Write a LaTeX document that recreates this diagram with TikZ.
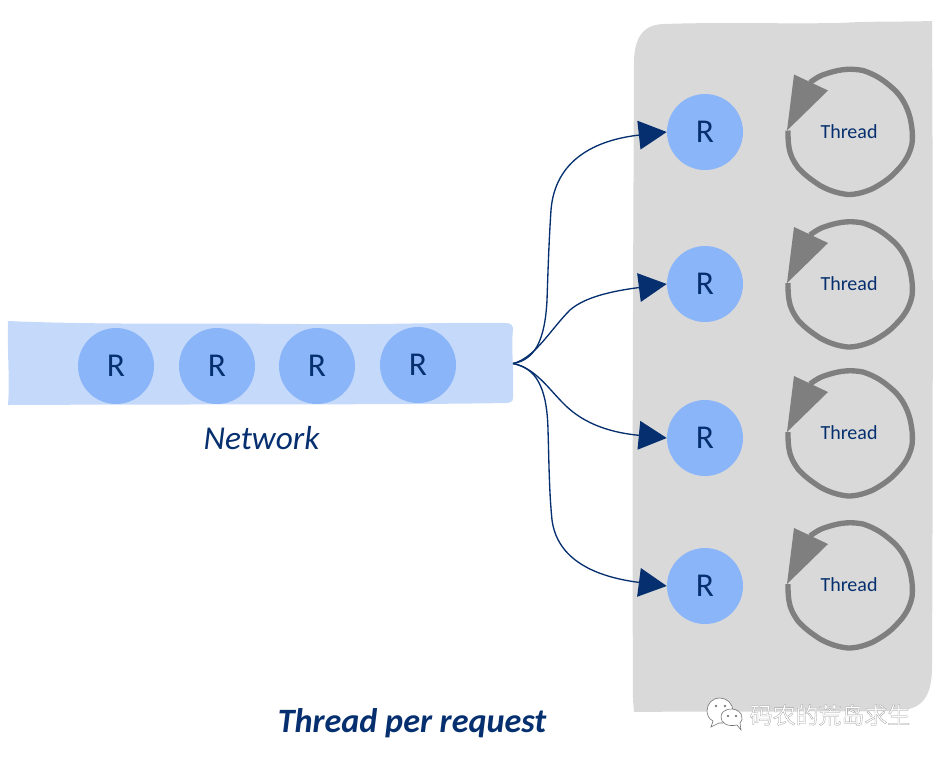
\documentclass[tikz,border=0pt]{standalone}
\usepackage{fontspec}
\setmainfont{Carlito}
\newfontfamily\cjkfont{Noto Sans CJK SC}[Scale=1]
\usetikzlibrary{arrows.meta}
\definecolor{ink}{HTML}{052F6E}
\definecolor{reqblue}{HTML}{8AB5F8}
\definecolor{barblue}{HTML}{C5D9FB}
\definecolor{panelgrey}{HTML}{D9D9D9}
\definecolor{loopgrey}{HTML}{7F7F7F}
\tikzset{
  x=0.75pt,y=-0.75pt,
  req/.style={circle,fill=reqblue,inner sep=0pt,minimum size=57pt,text=ink,font=\fontsize{25}{25}\selectfont},
  threadlabel/.style={inner sep=0pt,text=ink,font=\fontsize{15}{15}\selectfont},
  link/.style={draw=ink,line width=1pt,-{Triangle[length=21pt,width=21.5pt,fill=ink]}},
  loopline/.style={draw=loopgrey,line width=4pt,line join=round},
  loophead/.style={fill=loopgrey},
}
\begin{document}
\begin{tikzpicture}
\useasboundingbox (0,0) rectangle (941,757);
% panel
\fill[panelgrey] (633,700) .. controls (632,500) and (633,300) .. (634,60)
  .. controls (635,35) and (645,24) .. (665,24)
  .. controls (720,22) and (780,24) .. (840,23)
  .. controls (870,21) and (900,22) .. (932,21)
  .. controls (933,200) and (933,450) .. (932,670)
  .. controls (931,700) and (920,710) .. (895,711)
  .. controls (800,712) and (720,711) .. (634,712) -- cycle;
% network bar
\fill[barblue] (8,321) .. controls (100,325) and (200,323) .. (300,324)
  .. controls (380,325) and (450,322) .. (505,323)
  .. controls (512,323) and (513,326) .. (513,330)
  .. controls (511,345) and (514,370) .. (513,398)
  .. controls (513,402) and (510,403) .. (505,403)
  .. controls (400,405) and (200,404) .. (8,405)
  .. controls (10,380) and (7,350) .. (8,321) -- cycle;
\coordinate (hub) at (513,363.5);
% requests on the network
\node[req] (n1) at (116,366) {R};
\node[req] (n2) at (217,366) {R};
\node[req] (n3) at (317,366) {R};
\node[req] (n4) at (418,365) {R};
\node[inner sep=0pt,text=ink,font=\fontsize{25}{25}\selectfont\itshape] (network) at (261.5,438) {Network};
% handled requests
\node[req] (r1) at (705,132) {R};
\node[req] (r2) at (705,284) {R};
\node[req] (r3) at (705,438) {R};
\node[req] (r4) at (705,586) {R};
% connectors
\draw[link] (hub) .. controls (535,360) and (545,340) .. (547,300)
  .. controls (548,270) and (549,240) .. (551,210)
  .. controls (555,160) and (595,140) .. (r1.west);
\draw[link] (hub) .. controls (535,358) and (550,330) .. (570,310)
  .. controls (585,297) and (612,291) .. (r2.west);
\draw[link] (hub) .. controls (535,368) and (548,388) .. (563,403)
  .. controls (585,426) and (615,433) .. (r3.west);
\draw[link] (hub) .. controls (535,368) and (547,385) .. (548,430)
  .. controls (549,460) and (549,490) .. (552,520)
  .. controls (558,565) and (605,578) .. (r4.west);
% thread loops
\foreach \name/\cx/\cy in {t1/850/131.5,t2/850/284,t3/850/433,t4/850/585}{
  \begin{scope}[shift={(\cx,\cy)}]
    \node[threadlabel] (\name) at (-1,0) {Thread};
    \draw[loopline] (-40,-49) .. controls (-33,-54) and (-30,-56) .. (-23,-58)
      .. controls (-8,-63) and (2,-63) .. (13,-61)
      .. controls (25,-57) and (33,-52) .. (43,-43)
      .. controls (52,-35) and (57,-25) .. (60,-14)
      .. controls (62,-5) and (63,3) .. (62,12)
      .. controls (60,22) and (55,31) .. (47,39)
      .. controls (40,47) and (32,52) .. (23,57)
      .. controls (14,61) and (6,63) .. (-2,63)
      .. controls (-12,62) and (-21,59) .. (-30,54)
      .. controls (-39,48) and (-46,43) .. (-52,36)
      .. controls (-57,29) and (-60,23) .. (-61,16)
      .. controls (-62,10) and (-62,5) .. (-62,-1);
    \fill[loophead] (-56,-57) -- (-22,-41) -- (-63,-1) -- cycle;
  \end{scope}
}
% title
\node[inner sep=0pt,text=ink,font=\fontsize{25.6}{25.6}\selectfont\bfseries\itshape] (title) at (412,723.5) {Thread per request};
% watermark
\begin{scope}[draw=black!55,fill=white,line width=.45pt]
  \filldraw (713,721) -- (711,727) -- (719,723) .. controls (730,724) and (733,716) .. (733,711)
    .. controls (733,704) and (727,698) .. (720,698)
    .. controls (712,698) and (707,704) .. (707,711) .. controls (707,715) and (709,719) .. (713,721) -- cycle;
  \filldraw (737,725) -- (741,730) -- (740,723) .. controls (744,720) and (743,710) .. (732,709)
    .. controls (724,709) and (721,713) .. (721,717)
    .. controls (721,723) and (727,727) .. (737,725) -- cycle;
  \fill[black!50] (716,706) circle (1.3) (725,706) circle (1.3) (728,716) circle (1.3) (736,716) circle (1.3);
\end{scope}
\node[inner sep=0pt,font=\cjkfont\fontsize{17.2}{17.2}\selectfont] (mark) at (830,715)
  {\special{pdf:code 2 Tr 0.2 w 0.6 0.6 0.6 RG 1 1 1 rg}码农的荒岛求生\special{pdf:code 0 Tr 0 G 0 g}};
\end{tikzpicture}
\end{document}
